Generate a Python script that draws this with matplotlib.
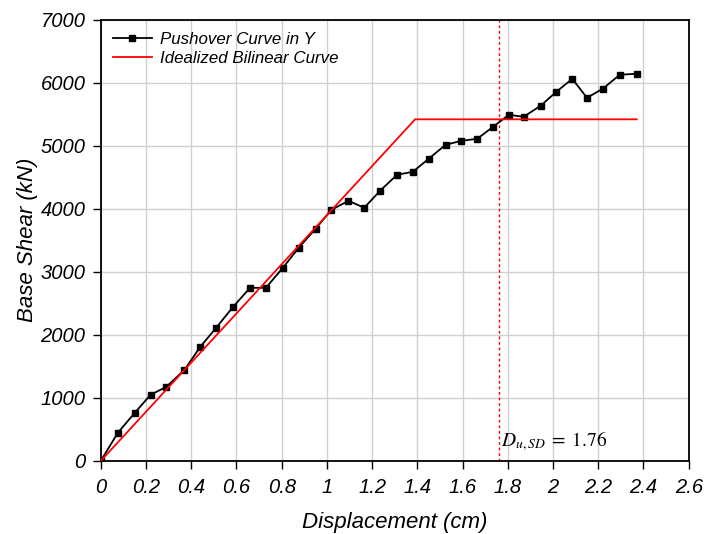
import matplotlib
matplotlib.use('Agg')
import matplotlib.pyplot as plt

# pushover curve
disp = [0, 0.075, 0.15, 0.22, 0.29, 0.37, 0.44, 0.51, 0.585, 0.66, 0.73, 0.805,
        0.875, 0.95, 1.02, 1.095, 1.165, 1.235, 1.31, 1.38, 1.45, 1.525, 1.595,
        1.665, 1.735, 1.805, 1.87, 1.945, 2.015, 2.085, 2.15, 2.22, 2.295, 2.37]
shear = [0, 444, 762, 1048, 1175, 1444, 1810, 2111, 2444, 2746, 2746, 3063,
         3381, 3683, 3984, 4127, 4016, 4286, 4540, 4587, 4794, 5016, 5079,
         5111, 5302, 5492, 5460, 5635, 5857, 6063, 5762, 5905, 6127, 6143]

# idealized bilinear
bil_x = [0, 1.39, 2.37]
bil_y = [0, 5420, 5420]

du = 1.76

plt.rcParams['font.family'] = 'Liberation Sans'
plt.rcParams['mathtext.fontset'] = 'stix'

fig = plt.figure(figsize=(7.1, 5.34), dpi=100)
ax = fig.add_axes([0.142, 0.137, 0.828, 0.826])

ax.plot(disp, shear, color='black', marker='s', markersize=5, lw=1.3,
        label='Pushover Curve in Y', zorder=3)
ax.plot(bil_x, bil_y, color='red', lw=1.3, label='Idealized Bilinear Curve', zorder=4)
ax.axvline(du, color='red', lw=1, ls=(0, (2, 2)), zorder=2)
ax.text(du + 0.01, 230, r'$D_{u,SD}\;\mathrm{=}\;\mathrm{1.76}$', fontsize=14)

ax.set_xlim(0, 2.6)
ax.set_ylim(0, 7000)
xt = [0, 0.2, 0.4, 0.6, 0.8, 1, 1.2, 1.4, 1.6, 1.8, 2, 2.2, 2.4, 2.6]
ax.set_xticks(xt)
ax.set_xticklabels([f'{v:g}' for v in xt])
ax.set_yticks(range(0, 7001, 1000))
ax.tick_params(labelsize=14.5, direction='out', length=6, width=1)
ax.tick_params(axis='x', pad=6)
ax.tick_params(axis='y', pad=5)
for lbl in ax.get_xticklabels() + ax.get_yticklabels():
    lbl.set_fontstyle('italic')
ax.grid(True, color='#d0d0d0', lw=1)
ax.set_axisbelow(True)
for s in ax.spines.values():
    s.set_linewidth(1.3)

ax.set_xlabel('Displacement (cm)', fontsize=16, labelpad=11, style='italic')
ax.set_ylabel('Base Shear (kN)', fontsize=16, labelpad=2, style='italic')

leg = ax.legend(loc='upper left', frameon=False, prop={'size': 12.2, 'style': 'italic'},
                handlelength=2.3, handletextpad=0.5, borderaxespad=0.3,
                labelspacing=0.25)

fig.savefig('out.png', dpi=100)
